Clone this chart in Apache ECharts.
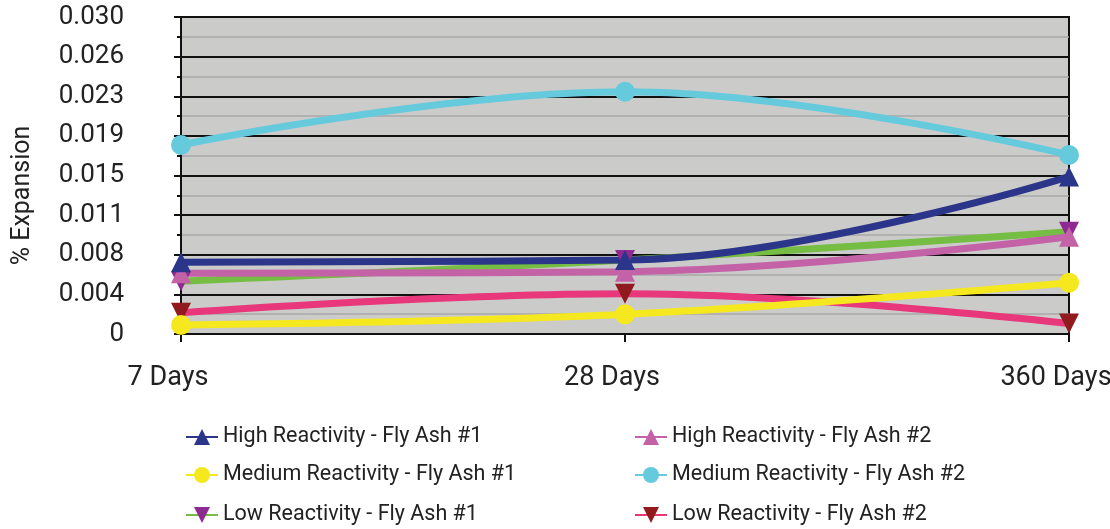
<!DOCTYPE html>
<html><head><meta charset="utf-8">
<script src="https://cdn.jsdelivr.net/npm/echarts@6/dist/echarts.min.js"></script>
<style>html,body{margin:0;padding:0;background:#fff}#c{width:1110px;height:529px}</style>
</head><body><div id="c"></div>
<script>
var categories = ['7 Days', '28 Days', '360 Days'];
var yTickLabels = ['0','0.004','0.008','0.011','0.015','0.019','0.023','0.026','0.030'];
var seriesNames = ['High Reactivity - Fly Ash #1', 'High Reactivity - Fly Ash #2',
                   'Medium Reactivity - Fly Ash #1', 'Medium Reactivity - Fly Ash #2',
                   'Low Reactivity - Fly Ash #1', 'Low Reactivity - Fly Ash #2'];
var highFA1 = [0.0068, 0.0070, 0.0149];
var mediumFA1 = [0.00085, 0.00186, 0.00486];
var lowFA1 = [0.0050, 0.0070, 0.00968];
var highFA2 = [0.00574, 0.0059, 0.00921];
var mediumFA2 = [0.01789, 0.02293, 0.01694];
var lowFA2 = [0.0020, 0.0038, 0.0010];

var FONT = 'Roboto, sans-serif';
var step = 0.00375;

function mk(name, data, lineColor, markColor, symbol, rotate) {
  return {
    name: name, type: 'line', data: data, smooth: 0.4,
    symbol: symbol, symbolSize: 20, symbolRotate: rotate || 0,
    lineStyle: { color: lineColor, width: 7 },
    itemStyle: { color: markColor },
    emphasis: { disabled: true }
  };
}

var legendPos = [[180, 421], [629, 421], [180, 459], [629, 459], [180, 499], [629, 499]];
var legends = seriesNames.map(function (n, i) {
  return { orient: 'horizontal', left: legendPos[i][0], top: legendPos[i][1], itemWidth: 32, itemHeight: 20,
    textStyle: { fontFamily: FONT, fontSize: 21.5, color: '#222' }, data: [n] };
});

var chart = echarts.init(document.getElementById('c'));
chart.setOption({
  animation: false,
  grid: { left: 181, right: 41, top: 17, bottom: 195, outerBoundsMode: 'none', containLabel: false,
          show: true, backgroundColor: '#cbcbca', borderColor: '#111', borderWidth: 2 },
  xAxis: {
    type: 'category', data: categories, boundaryGap: false,
    axisLine: { lineStyle: { color: '#111', width: 2 } },
    axisTick: { show: true, length: 8, lineStyle: { color: '#111', width: 2 } },
    axisLabel: { fontFamily: FONT, fontSize: 27, color: '#222', margin: 31, padding: [0, 26, 0, 0] }
  },
  yAxis: {
    type: 'value', min: 0, max: 0.03, interval: step,
    name: '% Expansion', nameLocation: 'middle', nameGap: 146, nameRotate: 90,
    nameTextStyle: { fontFamily: FONT, fontSize: 25, color: '#222', padding: [0, 40, 0, 0] },
    axisLine: { show: true, lineStyle: { color: '#111', width: 2 } },
    axisTick: { show: true, length: 7, lineStyle: { color: '#111', width: 2 } },
    minorTick: { show: true, splitNumber: 2, length: 4, lineStyle: { color: '#111', width: 2 } },
    splitLine: { lineStyle: { color: '#111', width: 2 } },
    minorSplitLine: { show: true, lineStyle: { color: '#a9a9a9', width: 1.5 } },
    axisLabel: {
      fontFamily: FONT, fontSize: 26, color: '#222', margin: 57, align: 'right', padding: [4, 0, 0, 0],
      formatter: function (v) { return yTickLabels[Math.round(v / step)]; }
    }
  },
  legend: legends,
  series: [
    mk(seriesNames[3], mediumFA2, '#66cadd', '#66cadd', 'circle'),
    mk(seriesNames[5], lowFA2, '#e8377a', '#901a1e', 'triangle', 180),
    mk(seriesNames[2], mediumFA1, '#f5e81f', '#f5e81f', 'circle'),
    mk(seriesNames[4], lowFA1, '#76bd43', '#8e2a92', 'triangle', 180),
    mk(seriesNames[1], highFA2, '#c462a8', '#c462a8', 'triangle'),
    mk(seriesNames[0], highFA1, '#2b3589', '#2b3589', 'triangle')
  ]
});
</script></body></html>
